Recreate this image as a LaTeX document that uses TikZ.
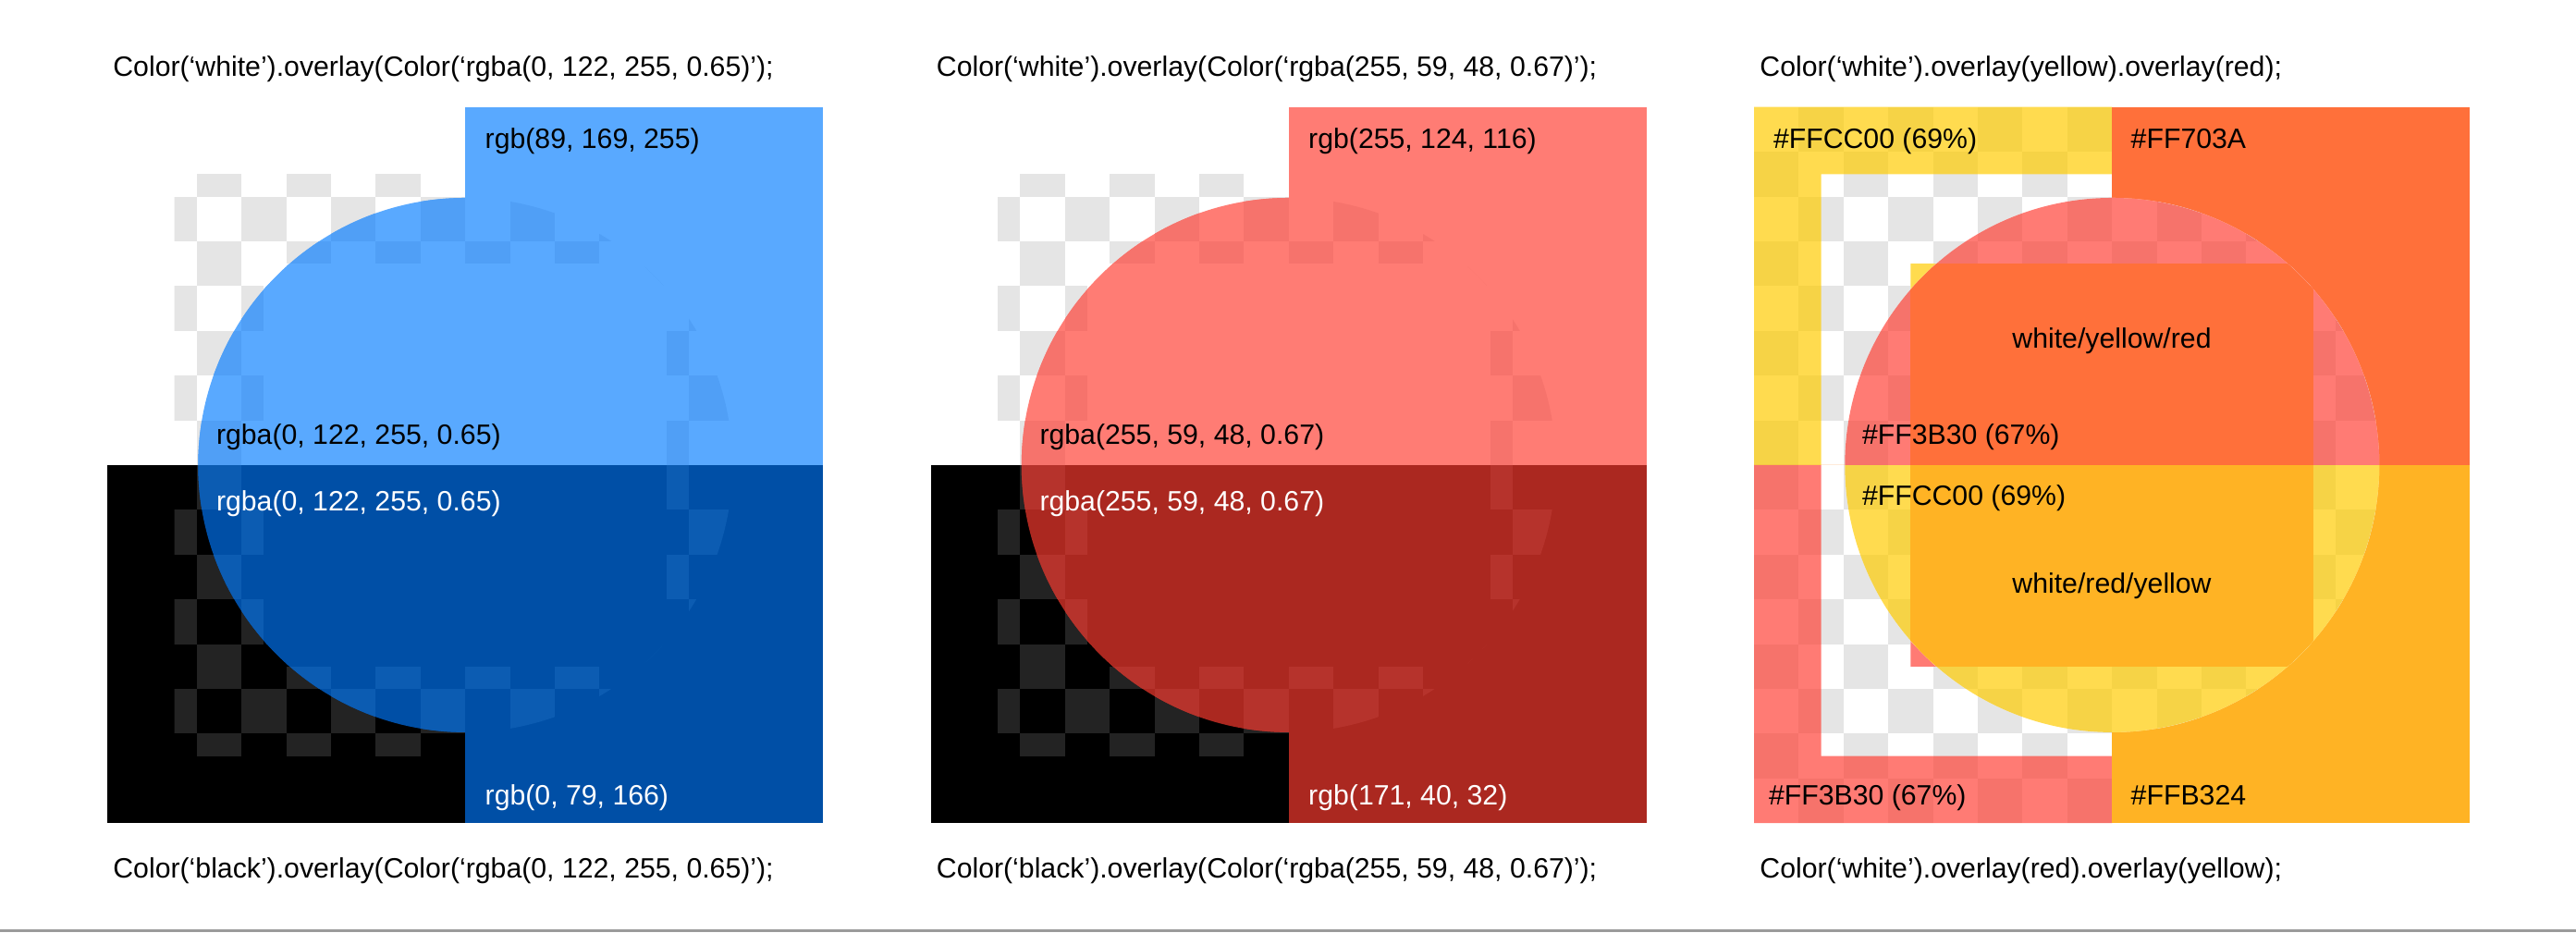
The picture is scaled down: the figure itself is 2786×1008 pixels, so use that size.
\documentclass[tikz,border=0pt]{standalone}
\usepackage{fontspec}
\setmainfont{Liberation Sans}

\definecolor{chklight}{HTML}{E5E5E5}
\definecolor{chkdark}{HTML}{232323}
\definecolor{sysblue}{HTML}{007AFF}
\definecolor{sysred}{HTML}{FF3B30}
\definecolor{sysyellow}{HTML}{FFCC00}
\definecolor{blueonwhite}{RGB}{89,169,255}
\definecolor{blueonblack}{RGB}{0,79,166}
\definecolor{blueonlight}{RGB}{80,159,246}
\definecolor{blueondark}{RGB}{12,92,178}
\definecolor{redonwhite}{RGB}{255,124,116}
\definecolor{redonblack}{RGB}{171,40,32}
\definecolor{redonlight}{RGB}{246,115,108}
\definecolor{redondark}{RGB}{182,51,44}
\definecolor{yellowred}{HTML}{FF703A}
\definecolor{redyellow}{HTML}{FFB324}
\definecolor{rulegray}{HTML}{9B9B9B}

\newcommand{\labelfont}{\fontsize{8.6pt}{10pt}\selectfont}

% mirrored checker cells, #1 upper half, #2 lower half
\newcommand{\checkers}[2]{%
  \foreach \r in {0,...,7} {
    \pgfmathtruncatemacro{\cfirst}{mod(\r+1,2)}
    \pgfmathtruncatemacro{\cnext}{\cfirst+2}
    \foreach \c in {\cfirst,\cnext,...,15} {
      \fill[#1] (\c,\r) rectangle ++(1,1);
      \fill[#2] (\c,15-\r) rectangle ++(1,1);
    }
  }}

% background halves, checker ring (inset #5), plain inner square
\newcommand{\panelbase}[5]{%
  \fill[#1] (0,0) rectangle (16,8);
  \fill[#2] (0,8) rectangle (16,16);
  \begin{scope}
    \clip (#5,#5) rectangle (16-#5,16-#5);
    \checkers{#3}{#4}
  \end{scope}
  \fill[#1] (3.5,3.5) rectangle (12.5,8);
  \fill[#2] (3.5,8) rectangle (12.5,12.5);}

\begin{document}
\begin{tikzpicture}[x=0.01cm, y=-0.01cm,
    txt/.style={font=\labelfont, inner sep=0pt, anchor=base west},
    cell/.style={x=0.48375cm, y=-0.48375cm}]
  \useasboundingbox (0,0) rectangle (2786,1008);
  \fill[white] (0,0) rectangle (2786,1008);

  % blue over white / black
  \begin{scope}[shift={(116,115.7)}, cell]
    \panelbase{white}{black}{chklight}{chkdark}{1.5}
    \fill[blueonwhite] (8,0) rectangle (16,8);
    \fill[blueonblack] (8,8) rectangle (16,16);
    \begin{scope}
      \clip (8,8) circle (5.97);
      \panelbase{blueonwhite}{blueonblack}{blueonlight}{blueondark}{1.5}
    \end{scope}
  \end{scope}

  % red over white / black
  \begin{scope}[shift={(1006.5,115.7)}, cell]
    \panelbase{white}{black}{chklight}{chkdark}{1.5}
    \fill[redonwhite] (8,0) rectangle (16,8);
    \fill[redonblack] (8,8) rectangle (16,16);
    \begin{scope}
      \clip (8,8) circle (5.97);
      \panelbase{redonwhite}{redonblack}{redonlight}{redondark}{1.5}
    \end{scope}
  \end{scope}

  % yellow and red, both orders
  \begin{scope}[shift={(1897,115.7)}, cell]
    \panelbase{white}{white}{chklight}{chklight}{0}
    \fill[sysyellow, fill opacity=0.69, even odd rule]
      (0,0) rectangle (8,8) (1.5,1.5) rectangle (8,8) (3.5,3.5) rectangle (8,8);
    \fill[sysred, fill opacity=0.67, even odd rule]
      (0,8) rectangle (8,16) (1.5,8) rectangle (8,14.5) (3.5,8) rectangle (8,12.5);
    \fill[yellowred] (8,0) rectangle (16,8);
    \fill[redyellow] (8,8) rectangle (16,16);
    \begin{scope}
      \clip (8,8) circle (5.97);
      \panelbase{white}{white}{chklight}{chklight}{0}
      \fill[sysred, fill opacity=0.67] (0,0) rectangle (16,8);
      \fill[sysyellow, fill opacity=0.69] (0,8) rectangle (16,16);
      \fill[yellowred] (3.5,3.5) rectangle (12.5,8);
      \fill[redyellow] (3.5,8) rectangle (12.5,12.5);
    \end{scope}
  \end{scope}

  % code lines
  \node[txt] (codeBlueWhite) at (121.7,82.3) {Color(‘white’).overlay(Color(‘rgba(0, 122, 255, 0.65)’);};
  \node[txt] (codeBlueBlack) at (121.7,949) {Color(‘black’).overlay(Color(‘rgba(0, 122, 255, 0.65)’);};
  \node[txt] (codeRedWhite) at (1012.2,82.3) {Color(‘white’).overlay(Color(‘rgba(255, 59, 48, 0.67)’);};
  \node[txt] (codeRedBlack) at (1012.2,949) {Color(‘black’).overlay(Color(‘rgba(255, 59, 48, 0.67)’);};
  \node[txt] (codeYellowRed) at (1902.7,82.3) {Color(‘white’).overlay(yellow).overlay(red);};
  \node[txt] (codeRedYellow) at (1902.7,949) {Color(‘white’).overlay(red).overlay(yellow);};

  % blue labels
  \node[txt] (blueWhite) at (524,160) {rgb(89, 169, 255)};
  \node[txt] (blueUpper) at (233.3,480) {rgba(0, 122, 255, 0.65)};
  \node[txt, white] (blueLower) at (233.3,552) {rgba(0, 122, 255, 0.65)};
  \node[txt, white] (blueBlack) at (524,870) {rgb(0, 79, 166)};

  % red labels
  \node[txt] (redWhite) at (1414.5,160) {rgb(255, 124, 116)};
  \node[txt] (redUpper) at (1123.8,480) {rgba(255, 59, 48, 0.67)};
  \node[txt, white] (redLower) at (1123.8,552) {rgba(255, 59, 48, 0.67)};
  \node[txt, white] (redBlack) at (1414.5,870) {rgb(171, 40, 32)};

  % yellow/red labels
  \node[txt] (yellowFrame) at (1917.3,160) {\#FFCC00 (69\%)};
  \node[txt] (yellowRedHex) at (2304,160) {\#FF703A};
  \node[txt, anchor=base] (yellowRedName) at (2284,376.7) {white/yellow/red};
  \node[txt] (redCircle) at (2013.3,480) {\#FF3B30 (67\%)};
  \node[txt] (yellowCircle) at (2013.3,546.7) {\#FFCC00 (69\%)};
  \node[txt, anchor=base] (redYellowName) at (2284,641.7) {white/red/yellow};
  \node[txt] (redFrame) at (1912.3,870) {\#FF3B30 (67\%)};
  \node[txt] (redYellowHex) at (2304,870) {\#FFB324};

  \fill[rulegray] (0,1004.5) rectangle (2786,1008);
\end{tikzpicture}
\end{document}
